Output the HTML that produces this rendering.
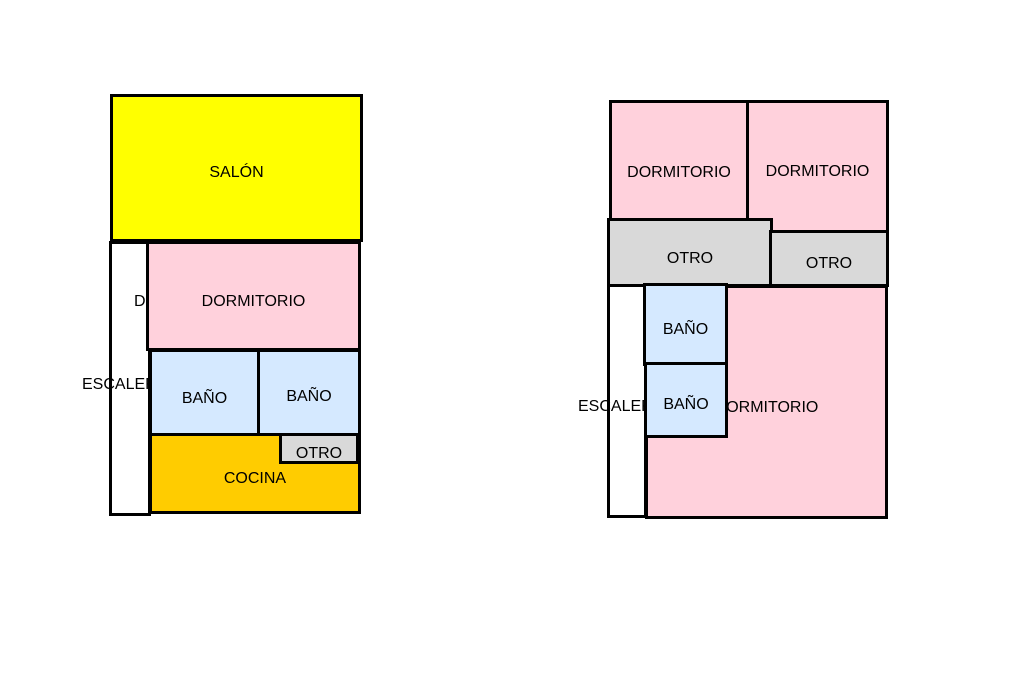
<!DOCTYPE html>
<html><head><meta charset="utf-8"><style>
body{margin:0;width:1024px;height:682px;background:#fff;position:relative;overflow:hidden;font-family:"Liberation Sans",Arial,sans-serif;}
.b{position:absolute;box-sizing:border-box;border:3px solid #000;display:flex;align-items:center;justify-content:center;font-size:16px;color:#000;}
.t{position:absolute;font-size:16px;color:#000;white-space:nowrap;}
.p{background:#ffd1dc}.y{background:#ffff00}.c{background:#d5e9ff}.o{background:#ffcc00}.g{background:#d9d9d9}.w{background:#fff}
</style></head><body>
<div class="b y" style="left:110px;top:94px;width:253px;height:148px;padding-top:10px;">SALÓN</div>
<div class="b w" style="left:109px;top:241px;width:42px;height:275px;"></div>
<div class="t" style="left:82px;top:376px;">ESCALERA</div>
<div class="t" style="left:134px;top:293px;">DORMITORIO</div>
<div class="b p" style="left:146px;top:241px;width:215px;height:110px;padding-top:12px;">DORMITORIO</div>
<div class="b c" style="left:149px;top:349px;width:111px;height:87px;padding-top:12px;">BAÑO</div>
<div class="b c" style="left:257px;top:349px;width:104px;height:87px;padding-top:8px;">BAÑO</div>
<div class="b o" style="left:149px;top:433px;width:212px;height:81px;padding-top:10px;">COCINA</div>
<div class="b g" style="left:279px;top:433px;width:80px;height:31px;padding-top:11px;">OTRO</div>

<div class="b p" style="left:609px;top:100px;width:140px;height:121px;padding-top:24px;">DORMITORIO</div>
<div class="b p" style="left:746px;top:100px;width:143px;height:133px;padding-top:10px;">DORMITORIO</div>
<div class="b g" style="left:607px;top:218px;width:166px;height:69px;padding-top:12px;">OTRO</div>
<div class="b g" style="left:769px;top:230px;width:120px;height:57px;padding-top:10px;">OTRO</div>
<div class="b w" style="left:607px;top:284px;width:40px;height:234px;"></div>
<div class="t" style="left:578px;top:398px;">ESCALERA</div>
<div class="b p" style="left:645px;top:285px;width:243px;height:234px;padding-top:12px;">DORMITORIO</div>
<div class="b c" style="left:643px;top:283px;width:85px;height:83px;padding-top:10px;">BAÑO</div>
<div class="b c" style="left:644px;top:362px;width:84px;height:76px;padding-top:10px;">BAÑO</div>
</body></html>
